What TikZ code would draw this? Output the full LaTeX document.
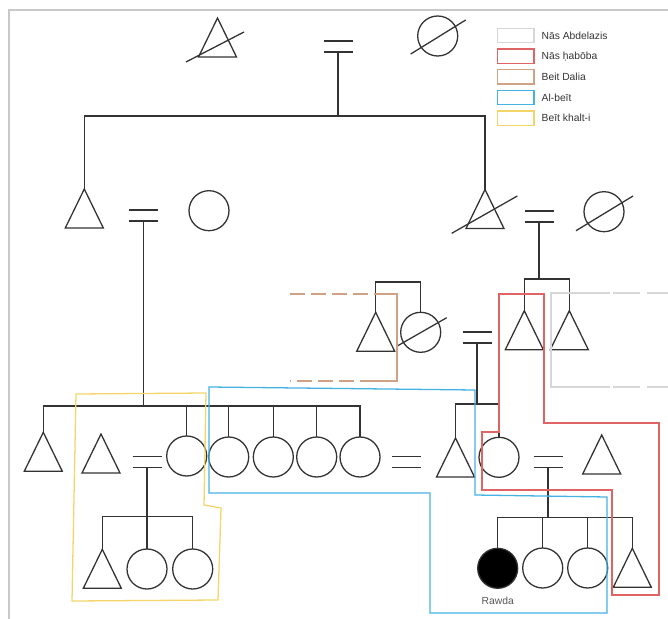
\documentclass[tikz,border=0pt]{standalone}
\usepackage{fontspec}
\setmainfont{Liberation Sans}
\usetikzlibrary{shapes.geometric,positioning}

\definecolor{kinline}{HTML}{333333}
\definecolor{framegrey}{HTML}{C8C8C8}
\definecolor{abdgrey}{HTML}{D6D6D6}
\definecolor{habred}{HTML}{E06464}
\definecolor{daliabrown}{HTML}{CFA286}
\definecolor{beitblue}{HTML}{45B2E3}
\definecolor{khaltyellow}{HTML}{F3D56A}
\definecolor{namegrey}{HTML}{555555}

\begin{document}
\begin{tikzpicture}[x=0.03cm, y=-0.03cm, line width=1.1pt, color=kinline,
    male/.style={draw, isosceles triangle, isosceles triangle stretches,
      shape border rotate=90, minimum width=1.14cm, minimum height=1.17cm,
      inner sep=0pt, outer sep=0pt, anchor=apex},
    female/.style={draw, circle, minimum size=1.2cm, inner sep=0pt, outer sep=0pt},
    wed/.style={minimum width=0.87cm, minimum height=0.33cm, inner sep=0pt, outer sep=0pt,
      append after command={(\tikzlastnode.north west) edge (\tikzlastnode.north east)
        (\tikzlastnode.south west) edge (\tikzlastnode.south east)}},
    legbox/.style={draw, minimum width=1.1cm, minimum height=0.43cm, inner sep=0pt, outer sep=0pt},
    legtext/.style={inner sep=0pt, anchor=west, font=\fontsize{8.8}{10}\selectfont},
    abd/.style={abdgrey, line width=1.1pt},
    habo/.style={habred, line width=1.1pt},
    dalia/.style={daliabrown, line width=1.1pt},
    beit/.style={beitblue, line width=1.1pt},
    khalt/.style={khaltyellow, line width=1.1pt}]
    \useasboundingbox (0,0) rectangle (668,619);
    \draw[framegrey, line width=1.2pt] (9,619) -- (9,10) -- (668,10);

    % grandparents
    \node[male] (gf) at (217.5,18) {};
    \node[wed] (w0) at (338,46.5) {};
    \node[female] (gm) at (437.7,36) {};
    \draw ([shift={(-31.5,44)}]gf.apex) -- ([shift={(26.5,14)}]gf.apex);
    \draw ([shift={(-27,18)}]gm.center) -- ([shift={(28,-16)}]gm.center);

    % second generation
    \node[male] (f1) at (84.3,189) {};
    \node[wed] (w1) at (143.5,215.5) {};
    \node[female] (f1w) at (209,210.7) {};
    \node[male] (f2) at (485,189.5) {};
    \node[wed] (w2) at (539,216.5) {};
    \node[female] (f2w) at (604,211.7) {};
    \draw ([shift={(-33.3,43.8)}]f2.apex) -- ([shift={(32.3,6.5)}]f2.apex);
    \draw ([shift={(-28,19)}]f2w.center) -- ([shift={(29,-15.7)}]f2w.center);
    \coordinate (sib0) at (338,116);
    \draw (w0.south) -- (sib0);
    \draw (f1.apex) |- (sib0) -| (f2.apex);

    % sons of the right couple
    \node[male] (s1) at (524.3,310.7) {};
    \node[male] (s2) at (569.3,310.7) {};
    \coordinate (sib2) at (539,279);
    \draw (w2.south) -- (sib2);
    \draw (s1.apex) |- (sib2) -| (s2.apex);

    % Dalia's side
    \node[male] (d1) at (375.7,312.3) {};
    \node[female] (d2) at (420.7,332.3) {};
    \draw ([shift={(-23.4,13.7)}]d2.center) -- ([shift={(26,-14.6)}]d2.center);
    \coordinate (sib3) at (398,282);
    \draw (d1.apex) |- (sib3) -| (d2.north);
    \node[wed] (w3) at (477,337.5) {};

    % third generation, left
    \coordinate (sib1) at (143.5,406);
    \draw (w1.south) -- (sib1);
    \node[male] (a1) at (43.3,432.3) {};
    \node[male] (a2) at (101,434) {};
    \node[wed] (w4) at (147,461.8) {};
    \node[female] (a3) at (186.7,456) {};
    \node[female] (a4) at (228.7,457) {};
    \node[female] (a5) at (273.3,457) {};
    \node[female] (a6) at (316.7,457) {};
    \node[female] (a7) at (360,457) {};
    \draw (a1.apex) |- (sib1) -| (a7.north);
    \foreach \n in {a3,a4,a5,a6}
      \draw (\n.north) -- (\n.north |- sib1);
    \node[wed] (w5) at (406,462) {};

    % third generation, right
    \node[male] (b1) at (455.5,438) {};
    \node[female] (b2) at (499,457.3) {};
    \node[wed] (w6) at (548,462.2) {};
    \node[male] (b3) at (601.7,435) {};
    \coordinate (sib4) at (477,404);
    \draw (w3.south) -- (sib4);
    \draw (b1.apex) |- (sib4) -| (b2.north);

    % children, left
    \node[male] (c1) at (102.3,549.3) {};
    \node[female] (c2) at (147,569) {};
    \node[female] (c3) at (192.7,569) {};
    \coordinate (sib5) at (147,516.7);
    \draw (w4.south) -- (sib5);
    \draw (c1.apex) |- (sib5) -| (c3.north);
    \draw (c2.north) -- (sib5);

    % children, right
    \node[female, fill=black] (rawda) at (497.7,568.3) {};
    \node[female] (r2) at (542.7,568) {};
    \node[female] (r3) at (587.7,568) {};
    \node[male] (r4) at (632.3,548.3) {};
    \coordinate (sib6) at (548,517.7);
    \draw (w6.south) -- (sib6);
    \draw (rawda.north) |- (sib6) -| (r4.apex);
    \foreach \n in {r2,r3}
      \draw (\n.north) -- (\n.north |- sib6);
    \node[below=0.24cm of rawda, inner sep=0pt, text=namegrey,
      font=\fontsize{8.8}{10}\selectfont] (rawdaname) {Rawda};

    % households
    \draw[dalia, dash pattern=on 0.45cm off 0.18cm] (290,294) -- (375,294);
    \draw[dalia] (375,294) -- (397,294) -- (397,381) -- (375,381);
    \draw[dalia, dash pattern=on 0.45cm off 0.18cm] (375,381) -- (290,381);
    \draw[abd] (610,293) -- (551,293) -- (551,387) -- (610,387);
    \draw[abd, dash pattern=on 0.81cm off 0.2cm] (613,293) -- (668,293);
    \draw[abd, dash pattern=on 0.81cm off 0.2cm] (613,387) -- (668,387);
    \draw[habo] (499,294) -- (544,294) -- (544,423) -- (659,423) -- (659,595)
      -- (612,595) -- (612,490) -- (482,490) -- (482,432) -- (499,432) -- cycle;
    \draw[beit] (209,387) -- (475,390) -- (475,495) -- (607,497) -- (607,613)
      -- (430,613) -- (430,493) -- (209,493) -- cycle;
    \draw[khalt] (76,394) -- (206,393) -- (204,505) -- (221,508) -- (218,600)
      -- (72,601) -- cycle;

    % legend
    \node[legbox, draw=abdgrey] (lg1) at (515.7,35.5) {};
    \node[legbox, draw=habred, below=0.19cm of lg1] (lg2) {};
    \node[legbox, draw=daliabrown, below=0.19cm of lg2] (lg3) {};
    \node[legbox, draw=beitblue, below=0.19cm of lg3] (lg4) {};
    \node[legbox, draw=khaltyellow, below=0.19cm of lg4] (lg5) {};
    \node[legtext, right=0.21cm of lg1] (lt1) {Nās Abdelazis};
    \node[legtext, right=0.21cm of lg2] (lt2) {Nās ḥabōba};
    \node[legtext, right=0.21cm of lg3] (lt3) {Beit Dalia};
    \node[legtext, right=0.21cm of lg4] (lt4) {Al-beīt};
    \node[legtext, right=0.21cm of lg5] (lt5) {Beīt khalt-i};
\end{tikzpicture}
\end{document}
